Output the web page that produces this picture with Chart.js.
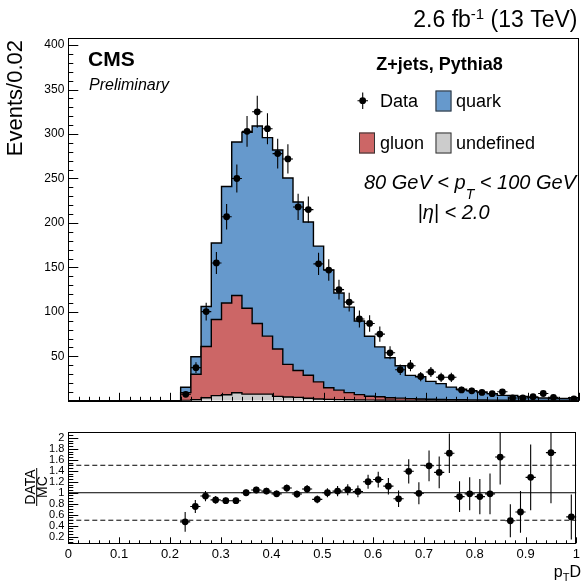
<!DOCTYPE html>
<html>
<head>
<meta charset="utf-8">
<script src="https://cdn.jsdelivr.net/npm/chart.js@4/dist/chart.umd.min.js"></script>
<style>
  html, body { margin: 0; padding: 0; background: #fff; }
  #wrap { position: relative; width: 583px; height: 581px; }
  #wrap canvas { position: absolute; left: 0; top: 0; }
</style>
</head>
<body>
<div id="wrap">
  <canvas id="main" width="583" height="581"></canvas>
  <canvas id="ratio" width="583" height="581"></canvas>
</div>
<script>
// p_T D distribution, 50 bins of width 0.02 between 0 and 1
const binEdges = Array.from({ length: 51 }, (_, i) => Math.round(i * 2) / 100);
const binCenters = binEdges.slice(0, 50).map(e => Math.round(e * 100 + 1) / 100);

// Simulated Z+jets (Pythia8) split by jet flavour, events per bin
const quark = [0,0,0,0,0,0,0,0,0,0,0,
  6.1,19.8,45,86,131,172.5,198,222,223.3,223.8,209.5,189.5,172.3,152.7,132.6,109.3,96.1,82.8,67.4,56.1,
  44.9,36.4,26.1,25,20,17.8,14.1,11.9,10.4,9.1,7.3,5.4,5.5,4.3,3.1,2.7,1.9,2.1,2.9];
const gluon = [0,0,0,0,0,0,0,0,0,0,0,
  8.9,28.6,57.5,85.7,103.2,109.4,96.5,79.5,65.2,53.2,36.7,30.1,25.9,19.2,13,10.7,8.1,6.1,4.4,3.8,
  2.9,2.5,2,1.6,1.4,1.2,1,0.8,0.8,0.7,0.6,0.5,0.4,0.4,0.4,0.4,0.4,0.4,0.4];
const undefinedFlavour = [0,0,0,0,0,0,0,0,0,0,0,
  0.3,1.2,3.5,5.8,6.8,9.1,7.5,7.5,7.5,5,4.3,3.9,2.8,2.1,1.6,1.3,1.1,0.9,0.8,0.7,
  0.6,0.5,0.5,0.4,0.4,0.3,0.3,0.3,0.2,0.2,0.2,0.2,0.1,0.1,0.1,0.1,0.1,0.1,0.1];

// Observed events per bin
const dataCounts = [null,null,null,null,null,null,null,null,null,null,null,
  7.3,37.3,100.3,155,207,250,303,325,306,278,272,218,215,154,147,125,111,92,87,75,
  54,35,39.5,27.3,32.4,26.4,26.4,12.2,11.2,9.4,8,10.1,3.2,3.2,4.6,8.2,3.9,null,2.0];

// DATA / MC ratio and its uncertainty
const ratioValues = [null,null,null,null,null,null,null,null,null,null,null,
  0.47,0.75,0.94,0.87,0.855,0.855,1.0,1.05,1.03,0.98,1.085,0.976,1.067,0.88,1.0,1.03,1.055,1.024,1.2,1.24,
  1.12,0.89,1.39,0.99,1.49,1.37,1.72,0.93,0.98,0.93,0.98,1.65,0.49,0.65,1.28,null,1.73,null,0.56];
const ratioErrors = [null,null,null,null,null,null,null,null,null,null,null,
  0.18,0.12,0.094,0.07,0.06,0.054,0.058,0.058,0.059,0.059,0.066,0.066,0.073,0.071,0.082,0.092,0.1,0.107,0.128,0.143,
  0.15,0.15,0.22,0.2,0.28,0.29,0.36,0.28,0.3,0.32,0.37,0.5,0.3,0.38,0.6,null,0.92,null,0.41];
const ratioGuides = [1, 0.5, 1.5];

const FONT = '"Liberation Sans", Arial, Helvetica, sans-serif';
const COLORS = { quark: '#6699cc', gluon: '#cc6666', undef: '#cccccc' };

function histPoints(values) {
  return binEdges.map((x, i) => ({ x, y: values[Math.min(i, values.length - 1)] }));
}
function pointSeries(values) {
  return binCenters.map((x, i) => ({ x, y: values[i] }));
}

// Error bars: vertical uncertainty, horizontal half bin width
const errorBars = {
  id: 'errorBars',
  beforeDatasetDraw(chart, args) {
    const ds = chart.data.datasets[args.index];
    if (!ds.errors) return;
    const { ctx, chartArea: a, scales: { x, y } } = chart;
    ctx.save();
    ctx.beginPath();
    ctx.rect(a.left, a.top, a.right - a.left, a.bottom - a.top);
    ctx.clip();
    ctx.strokeStyle = '#000';
    ctx.lineWidth = 1.1;
    ctx.beginPath();
    ds.data.forEach((p, i) => {
      if (p.y == null) return;
      const e = ds.errors(i, p.y);
      const px = x.getPixelForValue(p.x);
      const py = y.getPixelForValue(p.y);
      ctx.moveTo(px, y.getPixelForValue(p.y - e));
      ctx.lineTo(px, y.getPixelForValue(p.y + e));
      ctx.moveTo(x.getPixelForValue(p.x - 0.01), py);
      ctx.lineTo(x.getPixelForValue(p.x + 0.01), py);
    });
    ctx.stroke();
    ctx.restore();
  }
};

// Frame with inward major/minor tick marks
const rootFrame = {
  id: 'rootFrame',
  afterDatasetsDraw(chart, args, o) {
    const { ctx, chartArea: a, scales: { x, y } } = chart;
    ctx.save();
    ctx.strokeStyle = '#000';
    ctx.lineWidth = 1;
    ctx.beginPath();
    for (let k = 0; k <= o.xN; k++) {
      const px = Math.round(x.getPixelForValue(o.x0 + k * o.xStep)) + 0.5;
      const len = k % o.xMajorEvery === 0 ? o.xMajorLen : o.xMinorLen;
      ctx.moveTo(px, a.bottom);
      ctx.lineTo(px, a.bottom - len);
    }
    for (let k = 0; k <= o.yN; k++) {
      const v = o.y0 + k * o.yStep;
      const py = Math.round(y.getPixelForValue(v)) + 0.5;
      const len = (k + o.yMajorOffset) % o.yMajorEvery === 0 ? o.yMajorLen : o.yMinorLen;
      ctx.moveTo(a.left, py);
      ctx.lineTo(a.left + len, py);
    }
    ctx.stroke();
    ctx.strokeRect(Math.round(a.left) + 0.5, Math.round(a.top) + 0.5,
      Math.round(a.right - a.left) - 1, Math.round(a.bottom - a.top));
    ctx.restore();
  }
};

function drawRuns(ctx, runs, x, y, align) {
  let total = 0;
  runs.forEach(r => { ctx.font = r.font; r.w = ctx.measureText(r.t).width; total += r.w; });
  let cx = align === 'right' ? x - total : align === 'center' ? x - total / 2 : x;
  runs.forEach(r => { ctx.font = r.font; ctx.fillText(r.t, cx, y + (r.dy || 0)); cx += r.w; });
}

const mainText = {
  id: 'mainText',
  afterDraw(chart) {
    const ctx = chart.ctx;
    ctx.save();
    ctx.fillStyle = '#000';
    ctx.textBaseline = 'alphabetic';
    ctx.textAlign = 'left';

    // y axis title
    ctx.save();
    ctx.translate(21.5, 40);
    ctx.rotate(-Math.PI / 2);
    ctx.textAlign = 'right';
    ctx.font = `22px ${FONT}`;
    ctx.fillText('Events/0.02', 0, 0);
    ctx.restore();

    ctx.font = `bold 21px ${FONT}`;
    ctx.fillText('CMS', 88, 66);
    ctx.font = `italic 16px ${FONT}`;
    ctx.fillText('Preliminary', 89, 89.5);

    drawRuns(ctx, [
      { t: '2.6 fb', font: `23px ${FONT}` },
      { t: '-1', font: `15px ${FONT}`, dy: -8.5 },
      { t: ' (13 TeV)', font: `23px ${FONT}` }
    ], 577.5, 27, 'right');

    // legend
    ctx.font = `bold 18px ${FONT}`;
    ctx.textAlign = 'center';
    ctx.fillText('Z+jets, Pythia8', 439.5, 70);
    ctx.textAlign = 'left';

    ctx.strokeStyle = '#000';
    ctx.lineWidth = 1.1;
    ctx.beginPath();
    ctx.moveTo(362.7, 92.5); ctx.lineTo(362.7, 109);
    ctx.moveTo(357.5, 100.7); ctx.lineTo(368, 100.7);
    ctx.stroke();
    ctx.beginPath();
    ctx.arc(362.7, 100.7, 3.4, 0, Math.PI * 2);
    ctx.fill();

    const box = (x, y, c) => {
      ctx.fillStyle = c;
      ctx.fillRect(x, y, 16, 21);
      ctx.strokeStyle = '#333';
      ctx.lineWidth = 1;
      ctx.strokeRect(x + 0.5, y + 0.5, 15, 20);
      ctx.fillStyle = '#000';
    };
    box(435.5, 90.5, COLORS.quark);
    box(359, 132.5, COLORS.gluon);
    box(435.5, 132.5, COLORS.undef);

    ctx.font = `18px ${FONT}`;
    ctx.fillText('Data', 380, 106.5);
    ctx.fillText('quark', 456, 106.5);
    ctx.fillText('gluon', 380, 148.5);
    ctx.fillText('undefined', 456, 148.5);

    drawRuns(ctx, [
      { t: '80 GeV < ', font: `italic 20px ${FONT}` },
      { t: 'p', font: `italic 20px ${FONT}` },
      { t: 'T', font: `italic 14px ${FONT}`, dy: 10 },
      { t: ' < 100 GeV', font: `italic 20px ${FONT}` }
    ], 470, 188.5, 'center');
    drawRuns(ctx, [{ t: '|\u03B7| < 2.0', font: `italic 20px ${FONT}` }], 453.5, 218.5, 'center');
    ctx.restore();
  }
};

const ratioText = {
  id: 'ratioText',
  afterDraw(chart) {
    const ctx = chart.ctx;
    ctx.save();
    ctx.fillStyle = '#000';
    ctx.textBaseline = 'alphabetic';
    ctx.save();
    ctx.translate(35, 487);
    ctx.rotate(-Math.PI / 2);
    ctx.textAlign = 'center';
    ctx.font = `14px ${FONT}`;
    ctx.fillText('DATA', 0, 0);
    ctx.fillText('MC', 0, 11.5);
    ctx.fillRect(-19, 1.2, 38, 1);
    ctx.restore();

    drawRuns(ctx, [
      { t: 'p', font: `16px ${FONT}` },
      { t: 'T', font: `11px ${FONT}`, dy: 4 },
      { t: 'D', font: `16px ${FONT}` }
    ], 581, 576.5, 'right');
    ctx.restore();
  }
};

const noGrid = { display: false, drawTicks: false };

new Chart(document.getElementById('main'), {
  type: 'line',
  data: {
    datasets: [
      { label: 'undefined', data: histPoints(undefinedFlavour), stepped: true, fill: 'origin', order: 1,
        backgroundColor: COLORS.undef, borderColor: '#000', borderWidth: 1.4, pointRadius: 0, stack: 'mc' },
      { label: 'gluon', data: histPoints(gluon), stepped: true, fill: '-1', order: 1,
        backgroundColor: COLORS.gluon, borderColor: '#000', borderWidth: 1.4, pointRadius: 0, stack: 'mc' },
      { label: 'quark', data: histPoints(quark), stepped: true, fill: '-1', order: 1,
        backgroundColor: COLORS.quark, borderColor: '#000', borderWidth: 1.4, pointRadius: 0, stack: 'mc' },
      { type: 'scatter', label: 'Data', data: pointSeries(dataCounts), stack: 'data', order: 0,
        pointRadius: 3.4, pointBackgroundColor: '#000', pointBorderWidth: 0,
        errors: (i, v) => Math.sqrt(v) }
    ]
  },
  options: {
    responsive: false, animation: false, devicePixelRatio: 1,
    layout: { padding: { top: 38, bottom: 180.2, left: 0, right: 2.5 } },
    scales: {
      x: { type: 'linear', min: 0, max: 1, display: false },
      y: {
        type: 'linear', min: 0, max: 408, stacked: true,
        grid: noGrid, border: { display: false },
        ticks: { stepSize: 50, includeBounds: false, padding: 4, color: '#000',
          font: { family: FONT, size: 12 }, callback: v => (v === 0 ? '' : String(v)) },
        afterFit: s => { s.width = 68.3; }
      }
    },
    plugins: {
      legend: { display: false }, tooltip: { enabled: false },
      rootFrame: { x0: 0, xStep: 0.02, xN: 50, xMajorEvery: 5, xMajorLen: 8, xMinorLen: 4,
        y0: 0, yStep: 10, yN: 40, yMajorEvery: 5, yMajorOffset: 0, yMajorLen: 10, yMinorLen: 5 }
    }
  },
  plugins: [errorBars, rootFrame, mainText]
});

new Chart(document.getElementById('ratio'), {
  type: 'line',
  data: {
    datasets: [
      { data: [{ x: 0, y: ratioGuides[0] }, { x: 1, y: ratioGuides[0] }], borderColor: '#000', borderWidth: 1, pointRadius: 0, order: 1 },
      { data: [{ x: 0, y: ratioGuides[1] }, { x: 1, y: ratioGuides[1] }], borderColor: '#000', borderWidth: 1, borderDash: [5, 3], pointRadius: 0, order: 1 },
      { data: [{ x: 0, y: ratioGuides[2] }, { x: 1, y: ratioGuides[2] }], borderColor: '#000', borderWidth: 1, borderDash: [5, 3], pointRadius: 0, order: 1 },
      { type: 'scatter', data: pointSeries(ratioValues), pointRadius: 3.4, pointBackgroundColor: '#000', pointBorderWidth: 0, order: 0,
        errors: i => ratioErrors[i] }
    ]
  },
  options: {
    responsive: false, animation: false, devicePixelRatio: 1,
    layout: { padding: { top: 432.3, bottom: 0, left: 0, right: 2.5 } },
    scales: {
      x: {
        type: 'linear', min: 0, max: 1, grid: noGrid, border: { display: false },
        ticks: { stepSize: 0.1, padding: 3, color: '#000', autoSkip: false, maxRotation: 0,
          font: { family: FONT, size: 13 }, callback: v => String(+v.toFixed(1)) },
        afterFit: s => { s.height = 37.7; }
      },
      y: {
        type: 'linear', min: 0.08, max: 2.1, grid: noGrid, border: { display: false },
        ticks: { stepSize: 0.2, includeBounds: false, padding: 4, color: '#000', autoSkip: false,
          font: { family: FONT, size: 11 }, callback: v => String(+v.toFixed(1)) },
        afterFit: s => { s.width = 68.3; }
      }
    },
    plugins: {
      legend: { display: false }, tooltip: { enabled: false },
      rootFrame: { x0: 0, xStep: 0.02, xN: 50, xMajorEvery: 5, xMajorLen: 6, xMinorLen: 3,
        y0: 0.1, yStep: 0.05, yN: 40, yMajorEvery: 4, yMajorOffset: 2, yMajorLen: 10, yMinorLen: 5 }
    }
  },
  plugins: [errorBars, rootFrame, ratioText]
});
</script>
</body>
</html>
